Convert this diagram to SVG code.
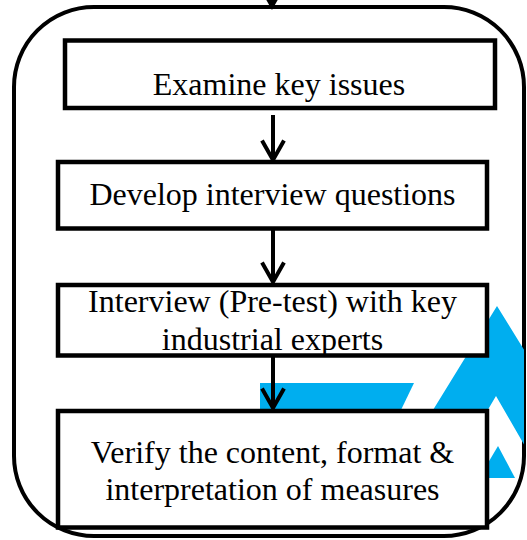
<svg xmlns="http://www.w3.org/2000/svg" width="527" height="540" viewBox="0 0 527 540">
<style>
.box{fill:#fff;stroke:#000;stroke-width:4.5}
.outer{fill:#fff;stroke:#000;stroke-width:4}
.logo{fill:#00AEEF;stroke:none}
.lbl{font-family:"Liberation Serif","Times New Roman",serif;font-size:32px;fill:#000;text-anchor:middle}
.conn{stroke:#000;stroke-width:4;fill:none}
</style>
<defs>
<marker id="ah" markerUnits="userSpaceOnUse" markerWidth="40" markerHeight="40" refX="0" refY="0" orient="auto" overflow="visible">
<path d="M-19.5,-11 L0,0 L-19.5,11" fill="none" stroke="#000" stroke-width="4"/>
</marker>
<clipPath id="oc"><rect x="14" y="7" width="510" height="529" rx="80" ry="80"/></clipPath>
</defs>
<rect id="frame" class="outer" x="14" y="7" width="510" height="529" rx="80" ry="80"/>
<g id="logo" clip-path="url(#oc)">
<polygon class="logo" points="260,383 414,383 400,412 260,412"/>
<polygon class="logo" points="497,306 526,353 526,448 496,396 470,440 420,440 433,410"/>
<polygon class="logo" points="498,446 515,478 479,478"/>
</g>
<g id="connectors">
<line class="conn" x1="272" y1="-30" x2="272" y2="6" marker-end="url(#ah)"/>
<line class="conn" x1="273" y1="115" x2="273" y2="160" marker-end="url(#ah)"/>
<line class="conn" x1="273" y1="229" x2="273" y2="282" marker-end="url(#ah)"/>
<line class="conn" x1="273" y1="355" x2="273" y2="408" marker-end="url(#ah)"/>
</g>
<g id="n1">
<rect class="box" x="65" y="40.5" width="430" height="67.5"/>
<text class="lbl" x="279" y="95">Examine key issues</text>
</g>
<g id="n2">
<rect class="box" x="58" y="162" width="429" height="66.5"/>
<text class="lbl" x="272.5" y="205">Develop interview questions</text>
</g>
<g id="n3">
<rect class="box" x="58" y="285" width="429" height="70.5"/>
<text class="lbl" x="272.5" y="311.8">Interview (Pre-test) with key</text>
<text class="lbl" x="272.5" y="349.8">industrial experts</text>
</g>
<g id="n4">
<rect class="box" x="58" y="411" width="429" height="116.5"/>
<text class="lbl" x="272.5" y="462.5">Verify the content, format &amp;</text>
<text class="lbl" x="272.5" y="499.5">interpretation of measures</text>
</g>
</svg>
